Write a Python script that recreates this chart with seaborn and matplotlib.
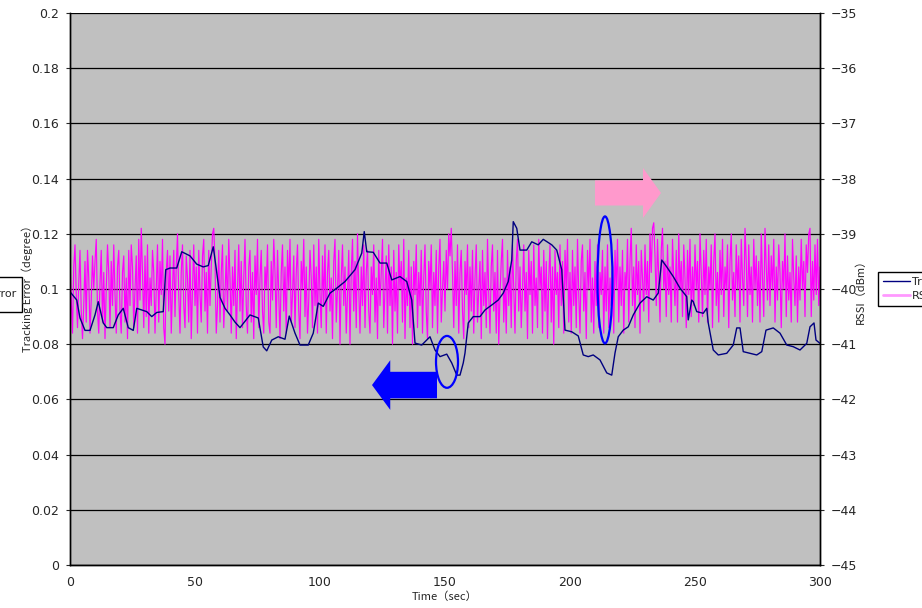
import numpy as np
import pandas as pd
import matplotlib
matplotlib.use("Agg")
import matplotlib.pyplot as plt
import seaborn as sns
from matplotlib.patches import FancyArrow, Ellipse, Rectangle
from matplotlib.lines import Line2D

# --- Tracking error (degree) ---
te_time = [0, 2.7, 4, 6, 8, 10, 11.3, 13.3, 14.7, 17.3, 19.3, 21.3, 23.3, 25.3, 26.7,
           30.7, 32.7, 34.7, 37.3, 38.3, 40, 42.7, 44.7, 48, 50.7, 53.3, 55.3, 57.3, 58.4,
           60, 62, 64, 66, 68, 72, 75.3, 77.3, 78.7, 80.7, 83.3, 86, 87.7, 90, 92, 95.3,
           97.3, 99.3, 101.3, 104, 106.7, 110, 114, 116.7, 117.7, 118.7, 121.3, 124, 126.7,
           128.7, 132, 134.7, 136.7, 138, 140.7, 142.7, 144, 146, 148, 150.7, 152.7, 154.7,
           156, 157.3, 158, 159.3, 161.3, 164, 166, 168.7, 171.3, 173.3, 175.3, 176.7, 177.3,
           178.7, 180, 182.7, 184.7, 187.3, 189.3, 192.7, 194.7, 196.7, 198, 200.7, 203.3,
           205.3, 207.3, 209.3, 212, 214.7, 216.7, 218, 219.3, 221.3, 223.3, 225.3, 228,
           230.7, 233.3, 235.3, 236.7, 238.7, 241.3, 244, 246.7, 247.3, 248.7, 249.3, 250.7,
           253.3, 254.7, 255.3, 257.3, 259.3, 262.7, 265.3, 266.7, 268, 269.3, 272, 274.7,
           276.7, 278.4, 281.3, 284, 286.7, 289.3, 292, 294.7, 296, 297.6, 298.4, 300]
te_val = [0.099, 0.096, 0.0895, 0.085, 0.085, 0.0906, 0.0954, 0.0877, 0.086, 0.086, 0.0906,
          0.093, 0.086, 0.085, 0.093, 0.0918, 0.090, 0.0915, 0.0918, 0.107, 0.1076, 0.1076,
          0.1135, 0.112, 0.109, 0.108, 0.1085, 0.1153, 0.108, 0.097, 0.093, 0.0906, 0.088,
          0.086, 0.0906, 0.0895, 0.079, 0.0776, 0.0815, 0.0827, 0.0818, 0.0902, 0.084, 0.0797,
          0.0797, 0.084, 0.0949, 0.0937, 0.0985, 0.1003, 0.1027, 0.107, 0.113, 0.1208, 0.1135,
          0.1133, 0.1094, 0.1094, 0.1033, 0.1045, 0.1027, 0.096, 0.0804, 0.0797, 0.0815, 0.0827,
          0.0779, 0.0755, 0.0764, 0.0732, 0.0688, 0.0688, 0.0732, 0.0768, 0.0877, 0.090, 0.090,
          0.0924, 0.0942, 0.096, 0.0985, 0.1027, 0.1105, 0.1244, 0.122, 0.1141, 0.1141, 0.1171,
          0.116, 0.118, 0.116, 0.1141, 0.107, 0.0851, 0.0845, 0.083, 0.0761, 0.0755, 0.0761,
          0.0743, 0.0696, 0.0688, 0.0768, 0.0827, 0.0851, 0.0863, 0.0906, 0.0949, 0.0972, 0.096,
          0.0985, 0.1105, 0.108, 0.1045, 0.1003, 0.0972, 0.0888, 0.096, 0.0954, 0.0918, 0.0912,
          0.093, 0.0877, 0.0779, 0.0761, 0.0767, 0.0797, 0.0859, 0.0859, 0.0773, 0.0767, 0.0761,
          0.0773, 0.0851, 0.0859, 0.084, 0.0797, 0.0791, 0.0779, 0.0803, 0.0863, 0.0877, 0.0815,
          0.0803]

# --- RSSI (dBm), one reading every 0.5 s (20 readings per row = 10 s) ---
rssi_time = np.arange(0, 300.5, 0.5)
rssi_val = [
    -39.4, -40.2, -40.8, -39.6, -39.2, -40.1, -40.7, -39.9, -39.3, -40.4, -40.9, -40.3, -39.5, -40.6, -39.3, -39.8, -40.8, -40.2, -39.4, -40.0,
    -39.5, -39.1, -40.4, -40.8, -39.9, -39.3, -40.6, -39.7, -40.9, -40.0, -39.2, -39.7, -40.7, -39.5, -40.3, -39.2, -40.1, -40.8, -39.6, -39.3,
    -40.4, -40.8, -39.7, -39.4, -40.6, -39.8, -40.9, -39.3, -40.3, -39.2, -39.6, -40.7, -40.0, -39.4, -40.8, -39.1, -40.2, -38.9, -39.7, -40.7,
    -39.4, -40.5, -39.2, -40.8, -39.8, -40.3, -39.3, -39.7, -40.8, -40.0, -39.2, -40.6, -39.5, -40.1, -39.1, -40.7, -41.0, -39.7, -39.3, -40.4,
    -39.4, -40.8, -40.0, -39.3, -40.5, -39.6, -39.0, -40.1, -40.8, -39.7, -39.2, -40.3, -40.7, -39.4, -39.8, -40.6, -39.3, -40.9, -40.0, -39.2,
    -40.3, -39.6, -40.8, -39.3, -40.1, -40.6, -39.4, -39.1, -40.4, -39.7, -40.8, -39.3, -40.3, -39.6, -39.0, -38.9, -39.5, -40.8, -40.3, -39.3,
    -40.6, -39.7, -39.2, -40.7, -40.1, -39.4, -40.4, -39.1, -39.8, -40.8, -39.6, -40.3, -39.3, -40.9, -40.0, -39.2, -40.4, -39.5, -40.7, -39.8,
    -39.1, -40.3, -40.8, -39.6, -39.3, -40.6, -39.7, -40.9, -39.4, -40.1, -39.1, -40.7, -39.8, -39.3, -40.4, -40.8, -39.6, -40.0, -39.2, -40.6,
    -40.8, -39.5, -40.2, -39.1, -39.7, -40.7, -39.3, -40.1, -40.9, -39.7, -39.2, -40.4, -39.6, -40.8, -39.3, -40.0, -39.1, -40.6, -40.1, -39.4,
    -40.7, -39.7, -39.2, -40.4, -40.9, -39.5, -40.0, -39.1, -40.5, -39.6, -40.8, -40.2, -39.3, -39.8, -40.7, -39.2, -40.3, -39.6, -40.8, -39.1,
    -40.1, -40.7, -39.4, -40.3, -39.2, -40.8, -39.7, -39.3, -40.4, -39.8, -40.9, -39.5, -39.1, -40.6, -40.0, -39.3, -41.0, -39.8, -39.2, -40.3,
    -39.6, -40.8, -40.1, -39.3, -41.0, -39.7, -39.1, -40.4, -39.5, -40.7, -39.0, -40.0, -40.8, -39.6, -40.3, -39.2, -40.7, -39.7, -39.3, -40.4,
    -40.8, -39.6, -40.1, -39.2, -40.6, -39.8, -40.9, -39.3, -40.3, -39.7, -39.1, -40.7, -40.0, -39.4, -40.8, -39.2, -40.3, -39.6, -41.0, -39.3,
    -40.4, -39.7, -40.8, -39.2, -40.0, -39.5, -40.6, -39.1, -40.9, -39.8, -40.3, -39.3, -40.7, -39.6, -41.0, -39.5, -40.1, -39.2, -40.7, -39.7,
    -40.3, -39.3, -40.8, -39.8, -39.2, -40.4, -40.9, -39.5, -40.0, -39.2, -40.7, -39.7, -40.3, -39.3, -40.8, -39.6, -39.1, -40.6, -40.0, -39.5,
    -40.4, -39.3, -40.0, -39.0, -39.4, -38.9, -39.7, -40.7, -39.5, -40.3, -39.2, -40.8, -39.7, -39.3, -40.4, -40.9, -39.5, -40.1, -39.2, -40.7,
    -39.6, -40.4, -39.3, -40.8, -39.8, -39.2, -40.6, -40.0, -39.5, -40.9, -39.3, -40.3, -39.7, -40.7, -39.1, -40.1, -40.8, -39.6, -39.2, -40.4,
    -39.7, -40.8, -39.3, -41.0, -40.1, -39.5, -39.1, -40.6, -39.8, -40.8, -39.3, -40.3, -39.6, -40.7, -39.2, -40.0, -40.8, -39.5, -39.1, -40.4,
    -39.6, -40.7, -40.0, -39.2, -40.4, -39.7, -40.9, -39.3, -40.1, -39.5, -40.8, -39.2, -40.3, -39.8, -40.7, -39.1, -40.0, -39.6, -40.8, -39.3,
    -40.4, -39.5, -40.9, -39.8, -39.2, -40.6, -39.6, -41.0, -39.3, -40.1, -39.7, -40.7, -39.2, -40.3, -39.5, -40.8, -39.3, -40.0, -39.1, -40.6,
    -39.7, -40.8, -39.3, -40.3, -39.6, -40.7, -39.1, -40.1, -40.8, -39.5, -39.2, -40.4, -39.7, -40.9, -39.3, -40.0, -39.1, -40.6, -39.8, -40.8,
    -39.5, -40.3, -39.2, -40.7, -39.7, -40.1, -39.3, -40.8, -39.6, -40.4, -39.2, -40.7, -39.8, -40.3, -39.5, -40.8, -39.3, -40.0, -39.1, -40.6,
    -39.6, -40.3, -39.3, -40.8, -39.7, -40.0, -39.1, -40.6, -39.5, -38.9, -40.3, -39.6, -40.7, -39.2, -40.1, -39.5, -40.8, -39.3, -39.8, -40.4,
    -39.2, -40.1, -39.5, -40.6, -39.0, -39.7, -38.9, -38.8, -39.4, -40.3, -39.1, -39.8, -40.6, -39.3, -38.9, -40.0, -39.5, -40.5, -39.2, -40.1,
    -39.6, -40.6, -39.1, -39.8, -40.3, -39.3, -40.6, -39.0, -40.0, -39.5, -40.5, -39.2, -39.8, -40.7, -39.3, -40.1, -39.1, -40.5, -39.6, -40.3,
    -39.2, -40.0, -39.5, -40.6, -39.0, -39.7, -40.5, -39.3, -40.1, -39.1, -40.6, -39.6, -40.0, -39.2, -40.7, -39.5, -39.0, -40.3, -39.7, -40.6,
    -39.3, -40.1, -39.1, -40.5, -39.6, -40.0, -39.2, -40.7, -39.5, -39.0, -40.2, -39.7, -40.5, -39.2, -40.0, -39.4, -40.6, -39.1, -39.8, -40.3,
    -38.9, -39.5, -40.5, -39.2, -40.1, -39.6, -40.6, -39.1, -40.0, -39.4, -40.3, -39.5, -40.6, -39.0, -39.8, -40.5, -38.9, -39.6, -40.2, -39.2,
    -40.3, -39.4, -40.0, -39.1, -40.6, -39.6, -40.2, -39.2, -39.7, -40.7, -39.5, -40.0, -39.0, -40.5, -39.4, -40.2, -39.7, -40.6, -39.1, -39.8,
    -40.3, -39.4, -40.6, -39.6, -40.2, -39.1, -40.0, -39.5, -40.5, -39.2, -39.7, -39.0, -38.9, -40.5, -39.5, -40.2, -39.2, -40.1, -39.1, -40.3,
    -39.6]

# --- axes ticks ---
x_ticks = [0, 50, 100, 150, 200, 250, 300]
left_ticks = [0, 0.02, 0.04, 0.06, 0.08, 0.1, 0.12, 0.14, 0.16, 0.18, 0.2]
left_labels = ["0", "0.02", "0.04", "0.06", "0.08", "0.1", "0.12", "0.14", "0.16", "0.18", "0.2"]
right_ticks = [-45, -44, -43, -42, -41, -40, -39, -38, -37, -36, -35]

te_df = pd.DataFrame({"time": te_time, "err": te_val})
rssi_df = pd.DataFrame({"time": rssi_time, "rssi": rssi_val})

sns.set_style("white")
plt.rcParams["font.family"] = ["DejaVu Sans"]
jp = ["Noto Sans CJK JP", "DejaVu Sans"]

fig = plt.figure(figsize=(9.22, 6.08), dpi=100)
ax = fig.add_axes([70 / 922, 43 / 608, 750 / 922, 552 / 608])
ax2 = ax.twinx()

# RSSI axis sits below, carries the gray background and the grid
ax.set_zorder(ax2.get_zorder() + 1)
ax.patch.set_visible(False)
ax2.set_facecolor("#C0C0C0")
ax2.patch.set_visible(True)

sns.lineplot(data=rssi_df, x="time", y="rssi", ax=ax2, color="#FF00FF", lw=0.85,
             estimator=None, sort=False, legend=False)
sns.lineplot(data=te_df, x="time", y="err", ax=ax, color="#000080", lw=1.0,
             estimator=None, sort=False, legend=False)

ax.set_xlim(0, 300)
ax.set_ylim(0, 0.2)
ax2.set_ylim(-45, -35)
ax.set_xticks(x_ticks)
ax.set_yticks(left_ticks)
ax.set_yticklabels(left_labels)
ax2.set_yticks(right_ticks)
for t in right_ticks:
    ax2.axhline(t, color="black", lw=0.9, zorder=0.5)

ax.tick_params(axis="x", direction="in", length=3, pad=8, labelsize=9)
ax.tick_params(axis="y", direction="out", length=3, pad=5, labelsize=9, left=True)
ax2.tick_params(axis="y", direction="out", length=3, pad=5, labelsize=9, right=True)

for a in (ax, ax2):
    for s in a.spines.values():
        s.set_color("black")
        s.set_linewidth(1.0)
ax.spines["top"].set_visible(False)
ax2.spines["top"].set_visible(False)

ax.set_xlabel("Time（sec）", fontsize=8, family=jp)
ax.xaxis.set_label_coords(0.5, -0.047)
ax.set_ylabel("Tracking Error（degree）", fontsize=8, family=jp)
ax.yaxis.set_label_coords(-0.0487, 0.505)
ax2.set_ylabel("RSSI（dBm）", fontsize=8, family=jp)
ax2.yaxis.set_label_coords(1.0467, 0.5)

# --- annotations: arrows and loops ---
ax.add_patch(FancyArrow(146.8, 0.0652, -26, 0, width=0.0096, head_width=0.018,
                        head_length=7.3, length_includes_head=True,
                        color="#0000FF", lw=0, zorder=5))
ax.add_patch(FancyArrow(210, 0.1348, 26.4, 0, width=0.0091, head_width=0.0181,
                        head_length=7.2, length_includes_head=True,
                        color="#FF99CC", lw=0, zorder=5))
ax.add_patch(Ellipse((150.8, 0.0736), 8.8, 0.0188, fill=False, ec="#0000FF",
                     lw=1.6, zorder=6))
ax.add_patch(Ellipse((214, 0.1033), 6, 0.046, fill=False, ec="#0000FF",
                     lw=1.6, zorder=6))

# --- legends clipped at both edges ---
fig.patches.append(Rectangle((-10 / 922, 1 - 311.5 / 608), 31.7 / 922, 35 / 608,
                             transform=fig.transFigure, fc="white", ec="black",
                             lw=1.0, zorder=-1))
fig.text(16 / 922, 1 - 294 / 608, "Tracking Error", ha="right", va="center", fontsize=8)

handles = [Line2D([], [], color="#000080", lw=1.0), Line2D([], [], color="#FF99FF", lw=2.0)]
fig.legend(handles, ["Tracking Error", "RSSI"], loc="upper left",
           bbox_to_anchor=(878 / 922, 1 - 272 / 608), fontsize=8, frameon=True,
           fancybox=False, edgecolor="black", framealpha=1, handlelength=2.4,
           handletextpad=0.2, borderpad=0.45, labelspacing=0.35, borderaxespad=0)

fig.savefig("out.png", dpi=100)
